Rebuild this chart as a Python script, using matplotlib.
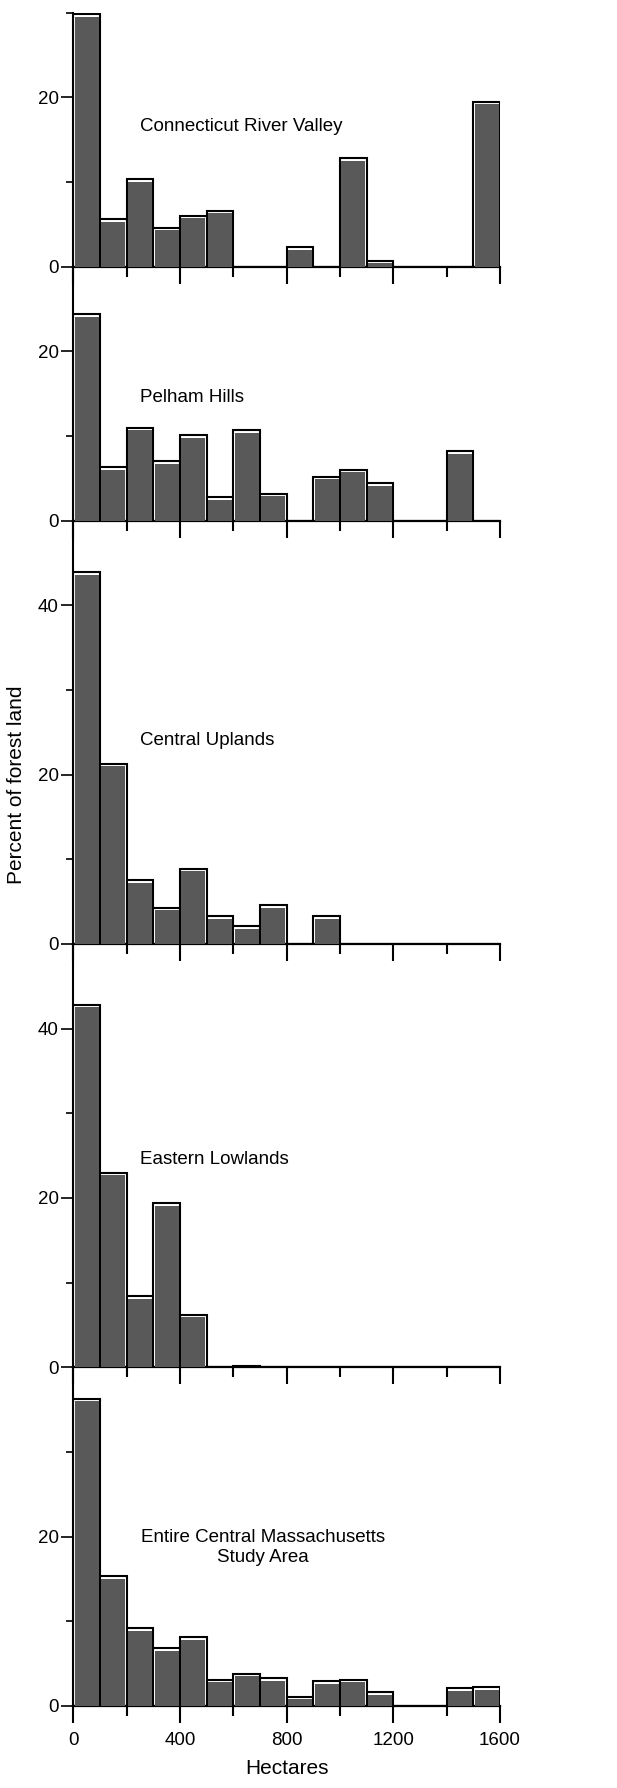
import numpy as np
import matplotlib
matplotlib.use("Agg")
import matplotlib.pyplot as plt

plt.rcParams["font.family"] = ["Liberation Sans", "DejaVu Sans"]

# bin left edges, hectares (100 ha bins)
bins = np.arange(0, 1600, 100)

regions = ["Connecticut River Valley", "Pelham Hills", "Central Uplands",
           "Eastern Lowlands", "Entire Central Massachusetts\nStudy Area"]

conn_valley = [29.8, 5.6, 10.3, 4.6, 6.0, 6.6, 0, 0, 2.3, 0, 12.8, 0.7, 0, 0, 0, 19.5]
pelham = [24.4, 6.3, 11.0, 7.0, 10.1, 2.8, 10.7, 3.2, 0, 5.2, 6.0, 4.4, 0, 0, 8.2, 0]
central_up = [43.9, 21.3, 7.5, 4.3, 8.9, 3.3, 2.1, 4.6, 0, 3.3, 0, 0, 0, 0, 0, 0]
eastern_low = [42.8, 23.0, 8.4, 19.4, 6.2, 0, 0.2, 0, 0, 0, 0, 0, 0, 0, 0, 0]
entire = [36.3, 15.3, 9.2, 6.8, 8.1, 3.1, 3.8, 3.3, 1.1, 2.9, 3.1, 1.6, 0, 0, 2.1, 2.2]

series = [conn_valley, pelham, central_up, eastern_low, entire]
ymax = [30, 30, 50, 50, 40]
major_y = [[0, 20], [0, 20], [0, 20, 40], [0, 20, 40], [0, 20]]
minor_y = [[10, 30], [10], [10, 30], [10, 30], [10, 30]]
label_xy = [(250, 16.5), (250, 14.5), (250, 24.0), (250, 24.6), (711, 18.7)]

fig = plt.figure(figsize=(6.17, 17.88), dpi=100)
gs = fig.add_gridspec(5, 1, height_ratios=ymax, hspace=0,
                      left=0.1188, right=0.8104, bottom=0.0459, top=0.9929)

for i in range(5):
    ax = fig.add_subplot(gs[i])
    ax.set_facecolor("none")
    vals = np.array(series[i])
    # outer black frame with white rim, then grey fill inside
    ax.bar(bins, vals, width=100, align="edge", color="white",
           edgecolor="black", linewidth=1.5, zorder=2)
    ax.bar(bins + 5, np.clip(vals - 0.3, 0, None), width=90, align="edge",
           color="#595959", edgecolor="none", zorder=3)
    ax.set_xlim(0, 1600)
    ax.set_ylim(0, ymax[i])
    for s in ["top", "right"]:
        ax.spines[s].set_visible(False)
    ax.spines["left"].set_linewidth(1.5)
    ax.spines["bottom"].set_linewidth(1.6)
    ax.set_yticks(major_y[i])
    ax.set_yticks(minor_y[i], minor=True)
    ax.set_xticks([0, 400, 800, 1200, 1600])
    ax.set_xticks([200, 600, 1000, 1400], minor=True)
    ax.tick_params(axis="y", which="major", length=8.5, width=1.2,
                   labelsize=13.5, pad=2)
    ax.tick_params(axis="y", which="minor", length=5, width=1.2)
    ax.tick_params(axis="x", which="major", length=12.5, width=1.5,
                   labelsize=13.5, pad=6)
    ax.tick_params(axis="x", which="minor", length=7.5, width=1.5)
    if i < 4:
        ax.tick_params(axis="x", labelbottom=False)
    ha = "center" if i == 4 else "left"
    ax.text(label_xy[i][0], label_xy[i][1], regions[i], fontsize=13.5,
            ha=ha, va="center", zorder=5)

fig.text(0.026, 1 - 785 / 1788, "Percent of forest land", rotation=90,
         fontsize=15, ha="center", va="center")
fig.text(287 / 617, 1 - 1769 / 1788, "Hectares", fontsize=15,
         ha="center", va="center")

fig.savefig("out.png", dpi=100)
